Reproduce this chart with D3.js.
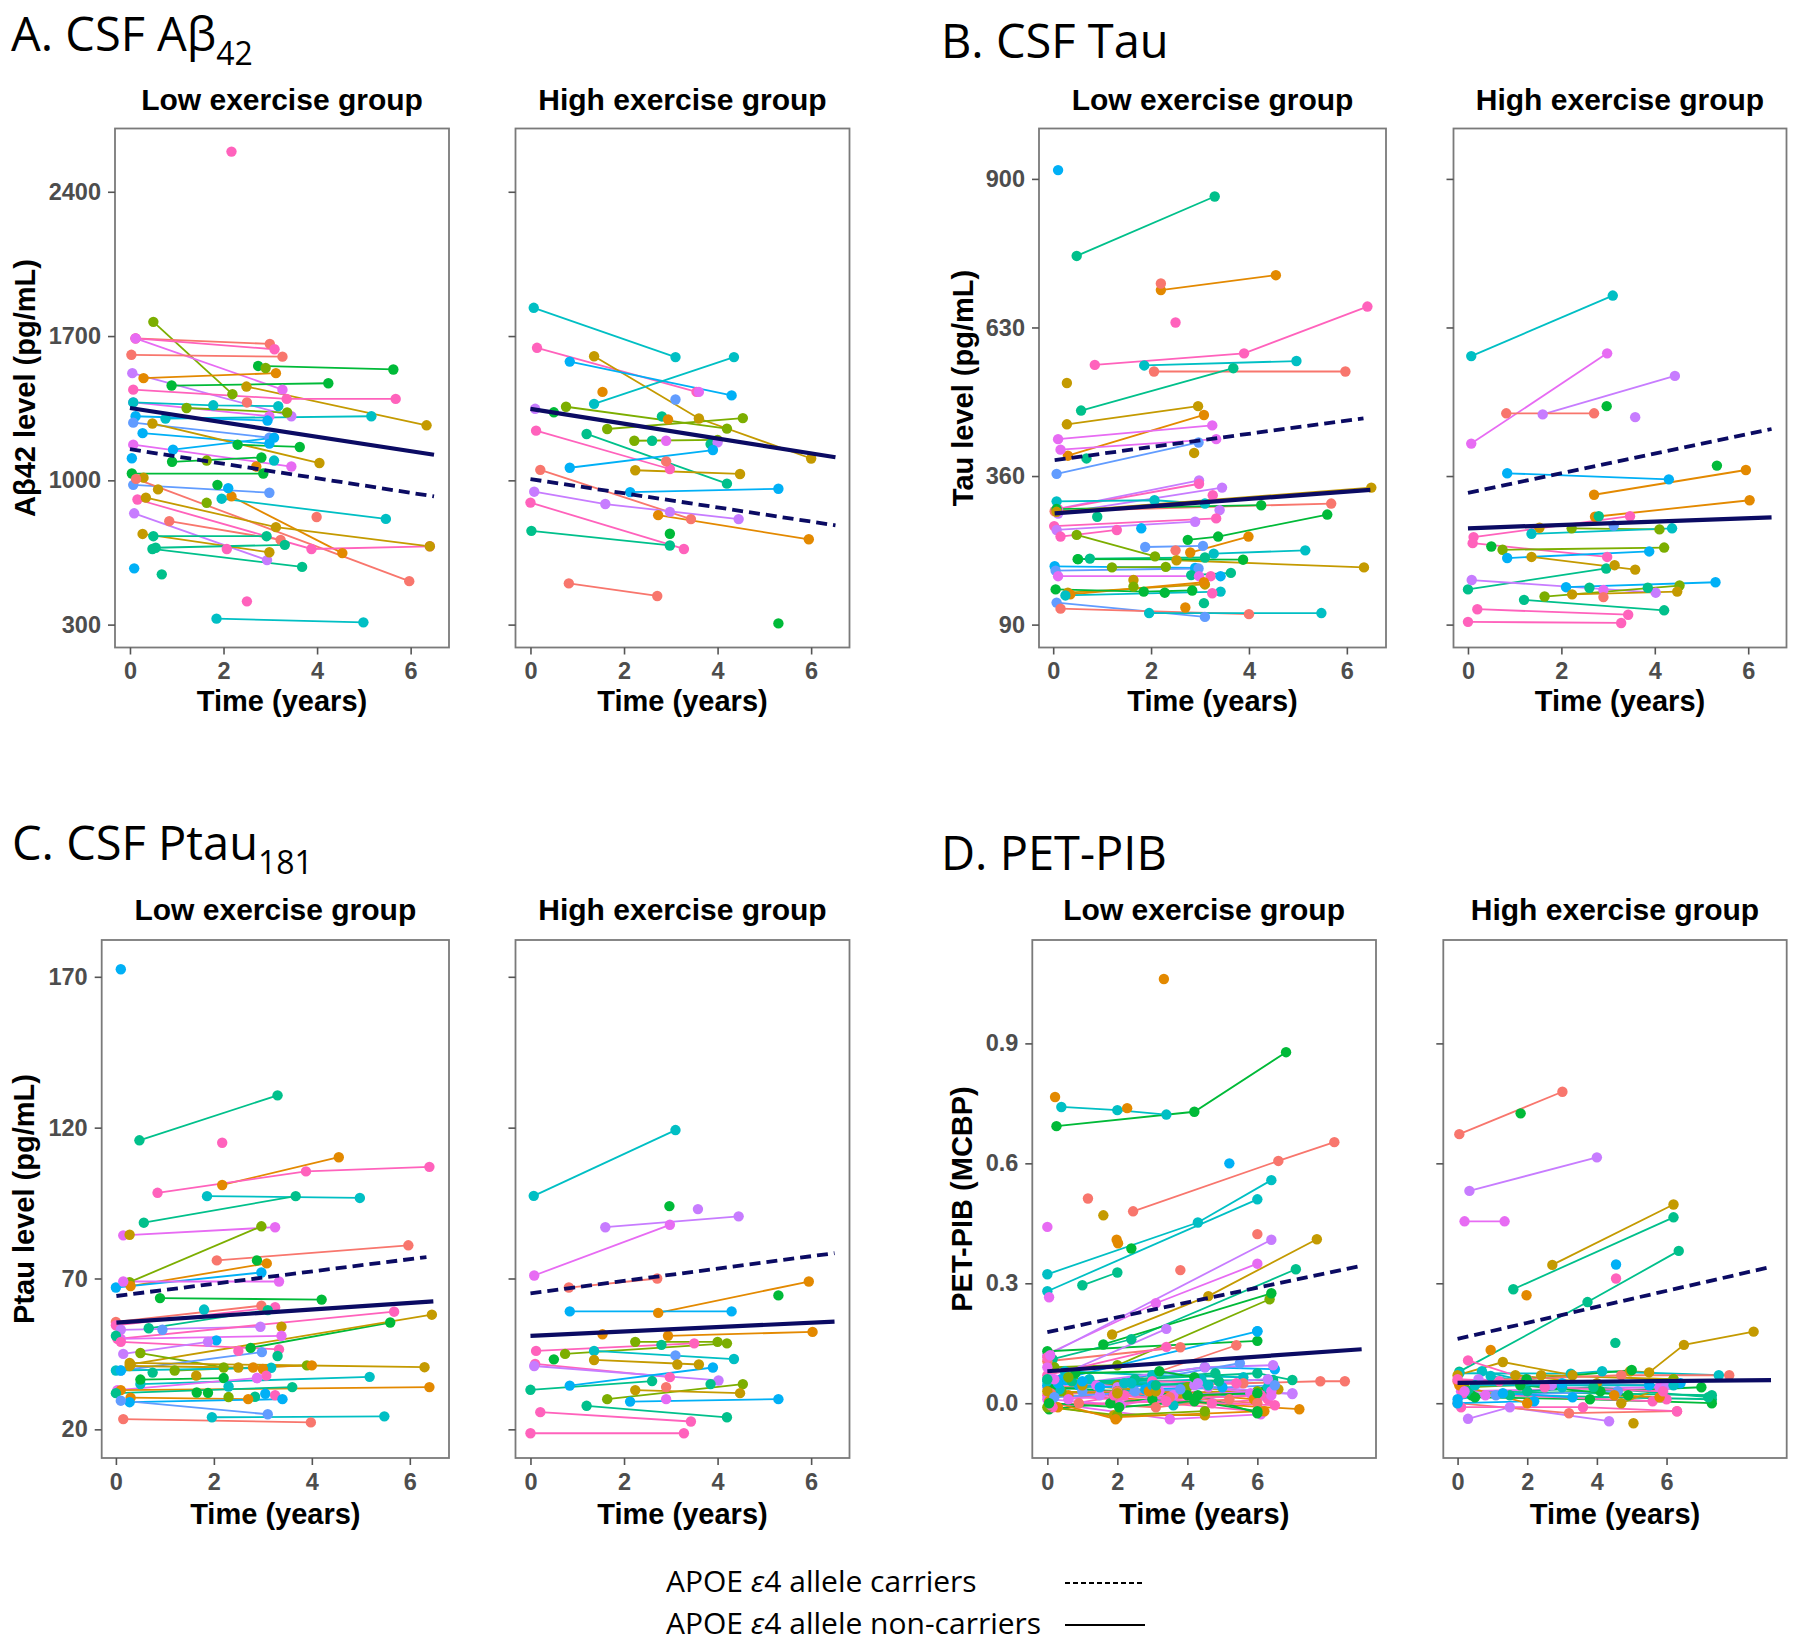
<!DOCTYPE html>
<html><head><meta charset="utf-8">
<script src="https://cdn.jsdelivr.net/npm/d3@7"></script>
<style>body{margin:0;background:#fff}svg{display:block}</style>
</head><body>
<svg id="chart" width="1800" height="1647"></svg>
<script>
// ---------------- DATA ----------------
// each subject: [colourKey, t1, v1, t2, v2, ...]
const abetaLow = [
["k",2.17,2595],["l",0.5,1769,2.19,1418],["r",0.12,1689,2.99,1662],["k",0.12,1689,3.09,1636],
["m",0.12,1689,3.26,1440],["r",0.03,1609,3.26,1600],["p",0.05,1520,3.45,1311],["o",0.29,1496,3.12,1520],
["g",0.89,1460,4.24,1471],["g",2.74,1555,5.63,1538],["l",2.9,1545],["y",2.49,1455,6.34,1267],
["k",0.07,1440,3.35,1395,5.68,1395],["m",0.07,1378,2.98,1311],["c",0.07,1378,1.78,1364,3.17,1360],
["l",1.21,1351,3.36,1329],["r",2.5,1378],["c",0.76,1300,5.16,1311],["s",0.12,1311,2.94,1290],
["b",0.07,1280,2.98,1207],["s",0.27,1229,2.98,1178],["y",0.48,1276,4.05,1084],["m",0.07,1173,3.45,1067],
["g",2.3,1173,3.63,1162],["s",0.92,1149,3.08,1207],["s",0.04,1107],["g",0.9,1090,2.81,1111],
["l",1.64,1096],["o",2.7,1067],["c",3.08,1096],["g",0.04,1033,2.85,1033],["y",0.29,1013],
["b",0.07,978,2.98,940],["r",0.13,1007,5.97,511],["o",2.17,922,4.54,647],["y",0.6,956],["g",1.87,978],
["s",2.1,962],["c",1.96,911,5.47,813],["r",3.99,822],["k",0.16,907,3.88,667,6.41,680],
["y",0.34,916,3.12,773,6.41,680],["l",1.64,891],["p",0.09,840,2.93,613],["r",0.84,802,3.22,711],
["y",0.27,740,2.98,651],["t",0.5,729,2.92,729],["t",0.48,667,3.68,580],["t",0.55,673,3.31,687],
["k",2.07,667],["s",0.09,573],["t",0.68,544],["k",2.5,413],["c",1.85,329,4.99,311]
];
const abetaHigh = [
["c",0.07,1837,3.1,1598],["k",0.14,1643,3.55,1429],["y",1.36,1602,3.6,1300,6.0,1106],["s",0.84,1576,4.3,1412],
["c",1.36,1371,4.35,1598],["o",1.54,1429],["m",3.6,1429],["b",3.1,1392],["p",0.1,1347],
["l",0.76,1357,4.2,1251],["g",0.5,1330],["t",2.81,1310],["o",2.94,1296],["l",1.64,1249,4.54,1302],
["k",0.12,1241,2.98,1055],["t",1.2,1225,4.2,984],["l",2.22,1192,4.0,1196],["t",2.6,1192],["m",2.9,1192],
["t",3.85,1176],["p",4.0,1184],["s",0.84,1061,3.9,1147],["r",2.9,1092],["y",2.24,1049,4.48,1031],
["r",0.21,1051,3.43,812],["o",2.73,831,5.95,714],["s",2.13,943,5.3,959],["p",0.08,945,1.6,885,4.45,812],
["k",0.0,892,3.28,667],["p",2.98,847],["t",0.02,755,2.98,684],["g",2.98,741],["r",0.82,500,2.71,439],["g",5.3,306]
];
const tauLow = [
["s",0.1,916],["t",0.48,760,3.3,868],["o",2.2,698,4.55,725],["r",2.2,710],["k",2.5,639],
["k",0.85,562,3.9,583,6.42,668],["c",1.86,561,4.97,569],["r",2.06,550,5.97,550],["t",0.57,479,3.68,556],
["y",0.28,529],["y",0.28,454,2.96,487],["o",0.3,397,3.08,471],["m",0.1,427,3.25,452],["m",0.15,408,3.33,427],
["b",0.07,364,2.97,421],["y",2.88,402],["t",0.68,392],["p",0.07,300,2.98,352],["k",0.1,300,2.98,346],
["p",0.1,292,3.45,339],["c",0.07,314,2.07,316,3.1,310],["k",3.26,325],["r",0.03,296,5.68,310],
["g",0.07,300,4.25,307],["y",0.07,295,6.5,339],["p",3.4,298],["t",0.9,286],["k",0.02,269,3.33,283],
["p",0.07,262,2.9,277],["g",2.75,244,3.37,250,5.6,290],["s",1.8,265],["k",0.15,250,1.3,262],
["l",0.48,253,2.08,214],["o",2.8,221,3.99,250],["b",1.88,231,3.06,233],["r",2.5,225],["c",3.28,219,5.15,225],
["t",0.51,209,0.75,210,3.1,212],["y",2.52,207,6.35,194],["g",0.5,209,3.88,208],["s",0.03,196,2.9,193],
["l",1.2,194,2.3,195],["b",0.05,188,2.97,192],["t",2.82,180,3.63,184],["k",3.22,178],["s",3.42,178],
["y",1.64,171],["l",1.64,159],["m",0.1,178,2.98,178],["y",0.3,148,3.1,163],["o",0.35,145,3.08,167],
["g",0.05,154,1.85,150,2.84,152],["c",0.25,143,3.42,150],["g",2.28,148],["k",3.25,147],["t",3.08,129],
["o",2.7,121],["b",0.07,130,3.1,104],["r",0.15,119,4.0,109],["c",1.96,111,5.48,111]
];
const tauHigh = [
["c",0.07,578,3.1,688],["m",0.07,419,2.98,583],["p",1.6,472,4.43,542],["r",0.82,474,2.7,474],["g",2.97,487],
["p",3.58,467],["s",0.84,365,4.3,354],["g",5.33,379],["o",2.7,326,5.95,371],["o",2.72,286,6.03,316],
["t",2.8,287],["k",0.12,249,3.47,287],["y",1.53,266],["l",2.22,265,4.1,263],["c",1.36,255,4.37,265],
["b",3.12,270],["k",0.1,238,2.98,213],["g",0.5,232],["l",0.74,226,4.2,230],["s",0.84,211,3.88,223],
["y",1.36,213,3.58,190],["t",0.0,154,2.96,192],["y",3.14,198],["p",0.08,171,4.02,148],["s",2.1,158,5.3,167],
["t",2.6,157],["t",3.85,157],["m",2.9,153],["l",1.64,141,4.53,161],["y",2.23,145,4.48,150],["r",2.9,140],
["t",1.2,135,4.2,116],["k",0.2,118,3.43,108],["k",0.0,95,3.28,93]
];
const ptauLow = [
["s",0.1,172.5],["t",0.48,115.8,3.3,130.7],["k",2.17,115],["o",2.17,101,4.55,110.2],["k",0.85,98.4,3.88,105.5,6.4,107],
["c",1.86,97.3,4.98,96.7],["t",0.57,88.5,3.67,97.3],["m",0.15,84.3,3.25,87],["y",0.28,84.5],["l",0.28,68.8,2.97,87.3],
["r",2.06,76,5.97,81],["g",2.88,76],["o",0.3,67.5,3.08,75],["s",0.0,67,2.97,72],["m",0.15,69,3.33,69],
["g",0.9,63.5,4.2,63],["c",1.8,59.7],["r",0.0,55.6,2.97,61],["k",0.0,54.5,3.25,60.5],["t",0.67,53.5,3.1,59.5],
["b",0.95,53],["p",0.1,53,2.95,54],["y",3.38,54],["k",0.03,50,5.68,59],["g",2.75,47,5.6,55.4],["y",0.3,41.5,6.45,58],
["m",0.1,50,3.38,51],["t",0.0,51],["k",0.1,49,3.33,46.5],["s",2.05,49.5],["p",0.15,45,1.88,49],["k",2.5,46],
["l",0.5,45.3,2.2,40.5],["b",0.1,39.5,2.98,45.6],["t",3.3,44.3],["y",0.28,41,2.5,40.5],["l",1.2,39.5,3.9,41.2],
["o",2.8,40.5,4.0,41.2],["y",0.28,42,6.3,40.6],["c",0.0,39.5,3.17,40.4],["s",0.1,39.5],["t",0.75,38.8],["o",3.0,40],
["k",3.07,37.8],["c",0.5,35,5.18,37.4],["g",0.5,36.5,2.2,37],["y",1.64,37.8],["p",2.88,37],["m",0.03,33,2.88,37],
["o",0.1,33,6.4,34],["t",0.0,32,3.6,34],["c",2.3,34.2],["g",1.65,32.2],["g",1.88,32.1],["l",2.3,30.7],["t",2.84,30.8],
["s",3.05,31.8],["k",3.25,31.3],["o",0.3,30.5,2.7,30],["s",0.28,29,3.4,30],["b",0.1,29.5,3.1,25],
["r",0.15,23.4,3.98,22.3],["c",1.96,24,5.48,24.3]
];
const ptauHigh = [
["c",0.07,97.4,3.1,119.2],["g",2.97,94],["p",3.58,93],["p",1.6,87,4.45,90.6],["m",0.08,71,2.98,87.8],
["r",0.82,67,2.71,70],["o",2.73,58.6,5.95,69],["g",5.3,64.4],["s",0.84,59.1,4.3,59.1],["o",1.54,51.5],
["o",2.94,51,6.03,52.3],["l",2.24,49,4.0,49],["t",2.8,48],["k",0.12,46,3.5,48.5],["l",0.74,45,4.2,48.5],
["g",0.5,43.2],["c",1.36,46,4.35,43.3],["b",3.1,44.5],["y",1.36,43,3.6,41.5],["y",3.14,41.5],
["k",0.1,41.7,2.98,37.3],["p",0.08,41,4.02,36.2],["s",0.84,34.5,3.9,40.5],["t",0.0,33.1,2.6,36],["t",3.85,35],
["l",1.64,30,4.54,35],["y",2.24,33,4.48,32],["r",2.9,34],["m",2.9,30],["s",2.13,29.2,5.3,30],
["t",1.2,27.8,4.2,24],["k",0.21,25.7,3.43,22.6],["k",0.0,18.7,3.28,18.7]
];
const pibLow = [
["o",3.33,1.061],["g",0.26,0.693,4.2,0.729,6.82,0.878],["c",0.4,0.741,2.0,0.733,3.4,0.722],["o",0.22,0.766],
["o",2.28,0.738],["r",2.45,0.48,6.6,0.606,8.2,0.653],["s",5.2,0.6],["c",0.0,0.3225,4.3,0.452,6.4,0.558],
["c",0.0,0.28,6.0,0.51],["t",1.0,0.295,2.0,0.327],["g",2.4,0.387],["r",1.16,0.512],["y",1.6,0.47],
["o",1.98,0.409],["o",2.02,0.40],["m",0.0,0.441],["r",6.0,0.423],["r",3.8,0.333],["m",0.05,0.265],
["m",0.05,0.125,3.1,0.25,6.0,0.349],["p",0.0,0.12,6.4,0.409],["t",0.15,0.11,2.4,0.16,7.1,0.335],
["g",0.0,0.13,6.0,0.156],["l",0.2,0.09,2.0,0.095,6.35,0.26],["g",1.6,0.147,6.4,0.275],
["y",1.85,0.172,4.6,0.268,7.7,0.41],["r",0.0,0.105,3.8,0.14],["k",0.0,0.07,3.4,0.141],["p",0.1,0.06,3.4,0.186],
["s",0.4,0.06,6.0,0.18],["r",2.2,0.05,5.4,0.145],["c",0.5,0.08,3.0,0.07,5.6,0.065],["s",0.9,0.045,4.5,0.09,6.5,0.085],
["p",0.0,0.04,4.5,0.09,6.45,0.095],["b",1.0,0.03,5.5,0.1],["t",0.3,0.05,6.0,0.075,7.0,0.058],["t",0.7,0.055,6.45,0.058],
["r",0.3,0.04,5.6,0.05,7.8,0.055,8.5,0.055],["p",1.5,0.02,7.0,0.025],["o",0.6,0.02,7.2,-0.015],
["k",0.0,0.02,2.0,0.01,6.0,-0.02],["m",0.1,0.0,3.5,-0.04,6.1,-0.028],["y",1.9,-0.03,4.5,-0.03],
["o",0.3,-0.01,2.0,-0.035,6.2,-0.02],["g",0.05,-0.015,3.0,0.01,6.2,0.03],["l",0.4,0.03,1.9,0.02,4.0,0.04,6.0,0.03],
["s",0.2,0.025,2.8,0.035,5.0,0.04],["c",1.2,0.06,3.6,-0.005,6.3,0.04],["k",0.15,-0.01,2.2,0.02,4.7,0.0,6.3,0.01],
["b",2.5,0.03,6.1,0.02],["g",1.8,0.0,4.3,0.02,6.0,-0.025],["m",0.6,0.01,3.2,0.03,5.8,0.025],
["y",1.0,0.045,3.8,0.025,6.6,0.035],["t",2.5,0.06,4.8,0.075],["r",0.9,0.0,3.1,-0.01,5.2,0.01],["p",4.2,0.045,7.0,0.023],
["c",0.35,0.035,2.4,0.05,4.4,0.06],["k",3.0,0.055,5.4,0.05],["g",0.8,0.075,3.2,0.08,4.2,0.065],["s",0.0,0.045,1.0,0.055],
["m",1.4,0.045,4.6,0.04,6.4,0.02],["o",2.9,0.03,5.9,0.01],["l",0.6,0.065,2.0,0.045],["s",6.0,0.18],
["p",0.0,0.06,2.0,0.04,4.3,0.05,6.3,0.06],["k",0.05,0.03,1.9,0.02,3.4,0.01,6.1,0.02],
["m",0.0,0.01,2.1,-0.005,3.6,0.02,6.4,0.03],["g",0.1,0.04,2.0,0.03,4.0,0.02,6.0,0.025],
["s",0.3,0.05,1.5,0.04,3.0,0.045],["c",0.0,0.055,2.2,0.05,4.6,0.045],["r",0.1,0.025,2.0,0.03,3.5,0.015,6.0,0.0],
["y",0.0,0.03,2.0,0.025,3.1,0.03],["l",0.0,-0.01,2.0,-0.03,4.5,-0.02],["o",0.05,0.005,1.95,-0.04],
["k",0.1,-0.005,3.4,0.005,6.5,-0.005],["b",0.2,0.015,3.8,0.035,6.5,0.045],["m",0.0,0.09,0.2,0.06],
["t",0.0,0.06,3.1,0.045,4.9,0.055],["g",0.05,0.0,2.05,-0.01,4.2,0.005,6.0,-0.02],["k",0.0,0.115],["m",0.08,0.12]
];
const pibHigh = [
["r",0.05,0.673,3.01,0.779],["g",1.81,0.725],["p",0.34,0.531,4.0,0.615],["m",0.2,0.455,1.35,0.455],
["y",2.72,0.346,6.2,0.497],["t",1.6,0.285,6.2,0.465],["t",0.05,0.079,3.73,0.253,6.35,0.381],["s",4.55,0.347],
["k",4.55,0.312],["o",1.98,0.27],["t",4.53,0.151],["y",4.95,0.08,5.5,0.077,6.5,0.146,8.5,0.179],["o",0.95,0.133],
["c",0.05,0.075,3.25,0.074,4.15,0.08,7.5,0.07],["y",0.0,0.07,1.3,0.103,3.3,0.07],["k",0.3,0.107,2.0,0.06],
["c",0.7,0.08,2.0,0.055],["c",0.95,0.068,3.0,0.04],["y",1.66,0.07,4.0,0.05],["g",1.98,0.06,5.0,0.083],
["y",2.4,0.07,6.2,0.06],["r",0.0,0.055,4.7,0.07,7.8,0.07],["l",0.2,0.04,6.2,0.06],["g",0.4,0.02,4.1,0.03,7.0,0.04],
["t",0.3,0.03,7.3,0.02],["t",1.5,0.02,7.3,0.01],["g",0.5,0.015,3.8,0.01,7.3,0.0],["p",0.3,-0.039,1.5,-0.01,4.35,-0.045],
["y",5.05,-0.05],["r",0.0,0.0,3.2,-0.025,6.3,-0.02],["k",0.1,-0.01,3.6,-0.01,6.3,-0.02],["s",0.0,0.0,2.2,0.005],
["b",1.1,0.02,4.6,0.03],["m",0.1,0.03,5.8,0.04],["k",0.15,0.025,5.6,0.005,6.0,0.01],["o",0.05,0.045,2.0,0.0],
["o",4.5,0.02,5.8,0.015],["y",4.7,0.0,6.2,0.05],["s",3.0,0.05,5.5,0.045,6.4,0.05],["p",0.6,0.06,2.7,0.045,6.0,0.045],
["t",2.0,0.03,3.9,0.04,7.2,0.015],["k",2.5,0.04,5.9,0.03],["g",1.8,0.045,4.9,0.02],
["k",0.0,0.06,1.2,0.055],["m",0.2,0.03,0.8,0.02],["c",0.5,0.045,6.2,0.045],["s",0.0,0.01,1.3,0.025,3.3,0.015]
];
// fitted lines: [carriers (dashed), non-carriers (solid)] as [t0, v0, t1, v1]
const abetaFitLow  = [[0,1151,6.5,922],[0,1351,6.5,1124]];
const abetaFitHigh = [[0,1006,6.52,782],[0,1347,6.52,1112]];
const tauFitLow    = [[0.03,389,6.34,465],[0.03,292,6.48,335]];
const tauFitHigh   = [[0,329.5,6.5,445.5],[0,265,6.5,285]];
const ptauFitLow   = [[0.01,64.2,6.34,77.1],[0.01,55.4,6.48,62.4]];
const ptauFitHigh  = [[0,65.1,6.5,78.4],[0,51,6.5,55.7]];
const pibFitLow    = [[0,0.178,8.98,0.344],[0,0.08,8.98,0.135]];
const pibFitHigh   = [[0,0.161,9.0,0.341],[0,0.051,9.0,0.058]];
// tick values
const xTicks = [0,2,4,6];
const abetaTicks = [300,1000,1700,2400];
const tauTicks = [90,360,630,900];
const ptauTicks = [20,70,120,170];
const pibTicks = [0,0.3,0.6,0.9];
const groups = ["Low exercise group","High exercise group"];
const legendLabels = ["carriers","non-carriers"];

// ---------------- STYLE ----------------
const palette = {r:"#F8766D",o:"#E38900",y:"#C49A00",l:"#7CAE00",g:"#00BA38",t:"#00C08B",
  c:"#00BFC4",s:"#00B0F6",b:"#619CFF",p:"#C77CFF",m:"#E76BF3",k:"#FF62BC"};
const NAVY = "#0b0b63";
const BOLD = "'Liberation Sans', Arial, sans-serif";
const SANS = "'Open Sans', 'Noto Sans', sans-serif";

const svg = d3.select("#chart");
svg.append("rect").attr("width",1800).attr("height",1647).attr("fill","#fff");

const panels = [
 {data:abetaLow, fit:abetaFitLow, l:115, r:449, t:128.5, b:647.5, xd:[-0.32,6.82], yd:[189,2707], yt:abetaTicks, fmt:d3.format("d"), lab:true, g:0, yTitle:"Aβ42 level (pg/mL)", ytx:35, fy:110, xy:711},
 {data:abetaHigh, fit:abetaFitHigh, l:515.5, r:849.5, t:128.5, b:647.5, xd:[-0.32,6.82], yd:[189,2707], yt:abetaTicks, lab:false, g:1, fy:110, xy:711},
 {data:tauLow, fit:tauFitLow, l:1039, r:1386, t:128.5, b:647.5, xd:[-0.29,6.8], yd:[48.4,991.6], yt:tauTicks, fmt:d3.format("d"), lab:true, g:0, yTitle:"Tau level (pg/mL)", ytx:973, fy:110, xy:711},
 {data:tauHigh, fit:tauFitHigh, l:1453.5, r:1786.5, t:128.5, b:647.5, xd:[-0.31,6.82], yd:[48.4,991.6], yt:tauTicks, lab:false, g:1, fy:110, xy:711},
 {data:ptauLow, fit:ptauFitLow, l:101.7, r:449, t:940, b:1458, xd:[-0.29,6.8], yd:[10.5,182.2], yt:ptauTicks, fmt:d3.format("d"), lab:true, g:0, yTitle:"Ptau level (pg/mL)", ytx:34, fy:920, xy:1524},
 {data:ptauHigh, fit:ptauFitHigh, l:515.5, r:849.5, t:940, b:1458, xd:[-0.32,6.82], yd:[10.5,182.2], yt:ptauTicks, lab:false, g:1, fy:920, xy:1524},
 {data:pibLow, fit:pibFitLow, l:1032.3, r:1376, t:940, b:1458, xd:[-0.43,9.39], yd:[-0.137,1.1586], yt:pibTicks, fmt:d3.format(".1f"), lab:true, g:0, yTitle:"PET-PIB (MCBP)", ytx:972, fy:920, xy:1524},
 {data:pibHigh, fit:pibFitHigh, l:1443.3, r:1786.7, t:940, b:1458, xd:[-0.41,9.45], yd:[-0.137,1.1586], yt:pibTicks, lab:false, g:1, fy:920, xy:1524}
];

function drawPanel(p){
  const x = d3.scaleLinear().domain(p.xd).range([p.l,p.r]);
  const y = d3.scaleLinear().domain(p.yd).range([p.b,p.t]);
  const g = svg.append("g");
  g.append("rect").attr("x",p.l).attr("y",p.t).attr("width",p.r-p.l).attr("height",p.b-p.t)
    .attr("fill","#fff");
  const subs = p.data.map(a => ({c:a[0], pts:d3.range(1,a.length,2).map(i=>[a[i],a[i+1]])}));
  const line = d3.line().x(d=>x(d[0])).y(d=>y(d[1]));
  g.selectAll("path.subj").data(subs.filter(s=>s.pts.length>1)).join("path")
    .attr("class","subj").attr("d",d=>line(d.pts)).attr("fill","none")
    .attr("stroke",d=>palette[d.c]).attr("stroke-width",1.8);
  const pts = subs.flatMap(s=>s.pts.map(pt=>({c:s.c,t:pt[0],v:pt[1]})));
  g.selectAll("circle").data(pts).join("circle")
    .attr("cx",d=>x(d.t)).attr("cy",d=>y(d.v)).attr("r",5.2).attr("fill",d=>palette[d.c]);
  // fits
  p.fit.forEach((f,i)=>{
    g.append("path").attr("d",line([[f[0],f[1]],[f[2],f[3]]]))
      .attr("fill","none").attr("stroke",NAVY)
      .attr("stroke-width", i===0?3.8:4.2)
      .attr("stroke-dasharray", i===0?"11,6":null);
  });
  // border
  g.append("rect").attr("x",p.l).attr("y",p.t).attr("width",p.r-p.l).attr("height",p.b-p.t)
    .attr("fill","none").attr("stroke","#7a7a7a").attr("stroke-width",1.8);
  // axes
  const xa = g.append("g").attr("transform",`translate(0,${p.b})`)
    .call(d3.axisBottom(x).tickValues(xTicks).tickSize(7).tickPadding(8).tickFormat(d3.format("d")));
  const ya = g.append("g").attr("transform",`translate(${p.l},0)`)
    .call(d3.axisLeft(y).tickValues(p.yt).tickSize(7).tickPadding(7).tickFormat(p.lab?p.fmt:()=>""));
  [xa,ya].forEach(a=>{
    a.select(".domain").remove();
    a.selectAll(".tick line").attr("stroke","#555").attr("stroke-width",1.6);
    a.selectAll(".tick text").attr("fill","#4d4d4d").style("font-family",BOLD)
      .style("font-weight","bold").style("font-size","23.5px");
  });
  const cx = (p.l+p.r)/2;
  svg.append("text").attr("x",cx).attr("y",p.fy).attr("text-anchor","middle")
    .style("font-family",BOLD).style("font-weight","bold").style("font-size","30px").text(groups[p.g]);
  svg.append("text").attr("x",cx).attr("y",p.xy).attr("text-anchor","middle")
    .style("font-family",BOLD).style("font-weight","bold").style("font-size","29px").text("Time (years)");
  if(p.yTitle){
    svg.append("text").attr("transform",`translate(${p.ytx},${(p.t+p.b)/2}) rotate(-90)`)
      .attr("text-anchor","middle").style("font-family",BOLD).style("font-weight","bold")
      .style("font-size","29px").text(p.yTitle);
  }
}
panels.forEach(drawPanel);

// panel titles
function title(x,y,main,sub,subDy){
  const t = svg.append("text").attr("x",x).attr("y",y).style("font-family",SANS)
    .style("font-size","47px").attr("fill","#000").text(main);
  if(sub) t.append("tspan").attr("dy",subDy).style("font-size","32px").text(sub);
}
title(11,51,"A. CSF Aβ","42",14);
title(941,58,"B. CSF Tau");
title(12,860,"C. CSF Ptau","181",14);
title(941,870,"D. PET-PIB");

// legend
const lg = svg.append("g");
[[1592,1583,"5,3"],[1634,1625,null]].forEach((row,i)=>{
  const t = lg.append("text").attr("x",666).attr("y",row[0]).style("font-family",SANS)
    .style("font-size","30px").attr("fill","#000").text("APOE ");
  t.append("tspan").style("font-style","italic").text("ε");
  t.append("tspan").text("4 allele "+legendLabels[i]);
  lg.append("line").attr("x1",1065).attr("x2",1145).attr("y1",row[1]).attr("y2",row[1])
    .attr("stroke","#000").attr("stroke-width",2).attr("stroke-dasharray",row[2]);
});
</script>
</body></html>
